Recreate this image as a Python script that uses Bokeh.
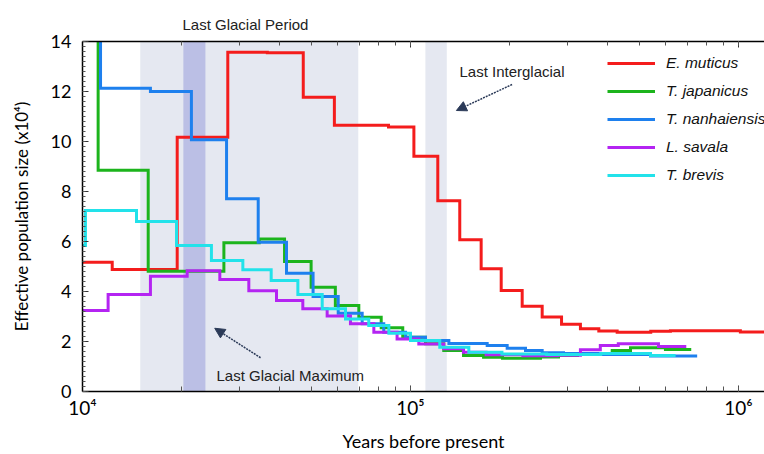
from bokeh.plotting import figure
from bokeh.models import (BoxAnnotation, Label, Arrow, NormalHead, Legend, LegendItem, Title,
                          LogAxis, LogTicker, SingleIntervalTicker, CustomJSTickFormatter, Range1d)
from bokeh.embed import file_html
from bokeh.resources import INLINE

# ---- data (years before present, effective population size x10^4) ----
em_t = [10000, 12320, 19440, 27730, 36600, 47100, 58600, 85700, 102400, 121100, 141300, 164200,
        189000, 219000, 252000, 288700, 329600, 375000, 426600, 540000, 620000, 1013000, 1200000]
em_n = [5.17, 4.88, 10.17, 13.57, 13.55, 11.77, 10.65, 10.58, 9.41, 7.63, 6.07, 4.91,
        4.04, 3.41, 2.98, 2.69, 2.51, 2.42, 2.37, 2.41, 2.43, 2.38, 2.38]

tj_t = [10000, 11160, 15860, 26980, 34600, 41300, 49770, 59000, 69560, 81400, 94700, 111100,
        126300, 145100, 167000, 190800, 249000, 282600, 322900, 412000, 468400, 598700, 717500]
tj_n = [16, 8.85, 4.81, 5.95, 6.1, 5.2, 4.17, 3.44, 2.97, 2.55, 2.17, 1.91,
        1.64, 1.44, 1.37, 1.33, 1.38, 1.44, 1.51, 1.64, 1.75, 1.68, 1.68]

tn_t = [10000, 11350, 16110, 21480, 27490, 34330, 41880, 50460, 60200, 71230, 82880, 96600,
        111100, 130900, 171300, 197100, 224200, 252000, 292700, 379000, 539000, 748000]
tn_n = [16, 12.13, 12.0, 10.07, 7.71, 5.97, 4.73, 3.8, 3.13, 2.71, 2.37, 2.17,
        2.04, 1.92, 1.84, 1.73, 1.64, 1.55, 1.52, 1.48, 1.42, 1.42]

ls_t = [10000, 11970, 16110, 20850, 26220, 32140, 39040, 46950, 55700, 65600, 77300, 91000,
        106000, 126300, 145000, 170000, 220000, 280000, 329600, 379000, 430000, 570000, 693000]
ls_n = [3.24, 3.88, 4.61, 4.83, 4.48, 4.03, 3.64, 3.31, 3.02, 2.71, 2.37, 2.1,
        1.9, 1.71, 1.57, 1.47, 1.43, 1.45, 1.67, 1.84, 1.91, 1.8, 1.8]

tb_t = [10000, 10210, 14610, 19350, 24720, 30820, 37600, 45350, 53800, 63360, 74600, 85900,
        100000, 122800, 150600, 190000, 260000, 380000, 539000, 643000]
tb_n = [5.84, 7.24, 6.8, 5.84, 5.24, 4.87, 4.44, 3.88, 3.31, 2.9, 2.64, 2.33,
        2.04, 1.77, 1.57, 1.5, 1.48, 1.52, 1.44, 1.44]

species = ["E. muticus", "T. japanicus", "T. nanhaiensis", "L. savala", "T. brevis"]
colors = ["#f41c1c", "#1cb41c", "#1e80ee", "#b424f2", "#22e2ea"]
series = [(em_t, em_n), (tj_t, tj_n), (tn_t, tn_n), (ls_t, ls_n), (tb_t, tb_n)]

# periods
lgp = (15000, 69300)      # Last Glacial Period
lgm = (20300, 23700)      # Last Glacial Maximum
lig = (111000, 129000)    # Last Interglacial

p = figure(width=764, height=454, x_axis_type="log", output_backend="svg", toolbar_location=None,
           x_range=Range1d(1e4, 1.2e6), y_range=Range1d(0, 14),
           min_border_left=82, min_border_right=0, min_border_top=41, min_border_bottom=63)
p.outline_line_color = None
p.xgrid.visible = False
p.ygrid.visible = False
p.background_fill_color = "white"

band_col = "#e5e8f1"
p.add_layout(BoxAnnotation(left=lgp[0], right=lgp[1], fill_color=band_col, fill_alpha=1,
                           line_alpha=0, level="underlay"))
p.add_layout(BoxAnnotation(left=lig[0], right=lig[1], fill_color=band_col, fill_alpha=1,
                           line_alpha=0, level="underlay"))
p.add_layout(BoxAnnotation(left=lgm[0], right=lgm[1], fill_color="#bbbfe5", fill_alpha=1,
                           line_alpha=0, level="underlay"))

items = []
for name, col, (t, n) in zip(species, colors, series):
    r = p.step(t, n, mode="after", line_color=col, line_width=3, line_join="miter")
    items.append(LegendItem(label=name, renderers=[r]))

legend = Legend(items=items, location=(525, 206), border_line_alpha=0, background_fill_alpha=0,
                glyph_width=48, glyph_height=20, label_height=20, spacing=8, label_standoff=11,
                padding=0, margin=0, label_text_font="Liberation Sans", label_text_font_style="italic",
                label_text_font_size="15.5px", label_text_color="#111111")
p.add_layout(legend)

# axes
ax = p.xaxis[0]
ax.ticker = LogTicker(num_minor_ticks=10)
ax.formatter = CustomJSTickFormatter(code="""
const e = Math.round(Math.log10(tick));
const sup = {'3':'\u00b3','4':'\u2074','5':'\u2075','6':'\u2076','7':'\u2077'};
return '10' + (sup[String(e)] || String(e));
""")
ax.axis_label = "Years before present"
ay = p.yaxis[0]
ay.ticker = SingleIntervalTicker(interval=2, num_minor_ticks=10)
ay.axis_label = "Effective population size (x10\u2074)"

for a in (ax, ay):
    a.axis_line_color = "black"
    a.axis_line_width = 1.5
    a.major_tick_in = 6
    a.major_tick_out = 0
    a.minor_tick_in = 3
    a.minor_tick_out = 0
    a.major_tick_line_color = "#333333"
    a.minor_tick_line_color = "#555555"
    a.major_label_text_font = "Lato"
    a.major_label_text_font_size = "18px"
    a.major_label_text_color = "black"
    a.axis_label_text_font = "Lato"
    a.axis_label_text_font_size = "17px"
    a.axis_label_text_font_style = "normal"
    a.axis_label_text_color = "black"
ax.major_label_text_font_size = "19px"
ax.axis_label_text_font_size = "18px"
ax.major_label_standoff = 4
ax.axis_label_standoff = 8
ay.major_label_standoff = 11
ay.axis_label_standoff = 16
ax.minor_tick_in = 5

top = LogAxis(ticker=LogTicker(num_minor_ticks=10), axis_line_color="black", axis_line_width=1.5,
              major_tick_in=6, major_tick_out=0, minor_tick_in=4, minor_tick_out=0,
              major_label_text_font_size="6px", major_label_text_alpha=0, major_label_standoff=0,
              major_tick_line_color="#333333", minor_tick_line_color="#555555")
p.add_layout(top, "above")

# annotations
ann_font = "Liberation Sans"
p.add_layout(Title(text="Last Glacial Period", align="left", offset=100, standoff=18,
                   text_font=ann_font, text_font_size="15px", text_font_style="normal",
                   text_color="#222222"), "above")
p.add_layout(Label(x=141000, y=12.8, text="Last Interglacial", text_align="left",
                   text_baseline="middle", text_font=ann_font, text_font_size="15px",
                   text_color="#222222"))
p.add_layout(Label(x=25620, y=0.64, text="Last Glacial Maximum", text_align="left",
                   text_baseline="middle", text_font=ann_font, text_font_size="15px",
                   text_color="#222222"))

arrow_col = "#2b3a58"
p.add_layout(Arrow(end=NormalHead(size=10, fill_color=arrow_col, line_color=arrow_col),
                   x_start=204000, y_start=12.28, x_end=138000, y_end=11.24,
                   line_color=arrow_col, line_width=1.5, line_dash="2 1"))
p.add_layout(Arrow(end=NormalHead(size=10, fill_color=arrow_col, line_color=arrow_col),
                   x_start=34900, y_start=1.35, x_end=25300, y_end=2.53,
                   line_color=arrow_col, line_width=1.5, line_dash="2 1"))

open("out.html", "w").write(file_html(p, INLINE))
